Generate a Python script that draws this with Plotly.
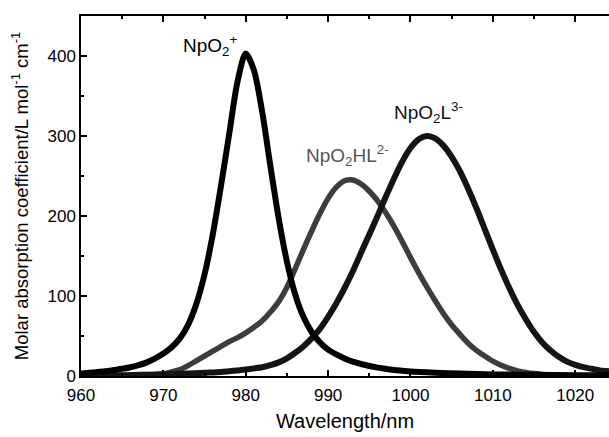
import plotly.graph_objects as go

# Wavelength (nm) and molar absorption coefficient (L mol-1 cm-1)
wl_np = [960, 961, 962, 963, 964, 965, 966, 967, 968, 969, 970, 971, 972, 973, 974, 975,
         976, 977, 978, 979, 980, 981, 982, 983, 984, 985, 986, 987, 988, 989, 990, 991,
         992, 993, 994, 995, 996, 997, 998, 999, 1000, 1003, 1006, 1010, 1015, 1020, 1024.1]
eps_np = [3, 4, 5, 6, 7.5, 9, 11, 13.5, 17, 22, 28, 36, 47, 64, 90, 127,
          177, 238, 303, 368, 403, 382, 330, 262, 197, 143, 102, 74, 55, 42, 33, 27,
          22, 18, 15, 12.5, 10.5, 9, 7.5, 6.5, 5.5, 4, 3, 2, 1.5, 1, 1]

wl_hl = [960, 965, 968, 969, 970, 971, 972, 973, 974, 975, 976, 977, 978, 979, 980, 981,
         982, 983, 984, 985, 986, 987, 988, 989, 990, 991, 992, 993, 994, 995, 996, 997,
         998, 999, 1000, 1001, 1002, 1003, 1004, 1005, 1006, 1007, 1008, 1009, 1010, 1011,
         1012, 1013, 1014, 1015, 1016, 1017, 1018, 1020, 1024.1]
eps_hl = [0, 0.3, 1, 2, 3, 5, 8, 13, 19, 25, 31, 37, 43, 48, 54, 61,
          69, 80, 93, 111, 134, 158, 181, 203, 222, 236, 244, 245, 240, 231, 219, 204,
          187, 168, 148, 129, 111, 94, 78, 64, 52, 41, 32, 25, 18.5, 13.5,
          9.5, 6.5, 4.5, 3, 2, 1.2, 0.8, 0.3, 0]

wl_l = [960, 965, 970, 973, 975, 977, 978, 979, 980, 981, 982, 983, 984, 985, 986, 987,
        988, 989, 990, 991, 992, 993, 994, 995, 996, 997, 998, 999, 1000, 1001, 1002, 1003,
        1004, 1005, 1006, 1007, 1008, 1009, 1010, 1011, 1012, 1013, 1014, 1015, 1016, 1017,
        1018, 1019, 1020, 1021, 1022, 1023, 1024.1]
eps_l = [0.5, 1, 2, 3, 4, 5, 6, 7, 8, 9.5, 11, 13.5, 17, 22, 29, 37,
         47, 59, 74, 91, 110, 131, 154, 177, 200, 224, 247, 268, 285, 296, 300, 297,
         288, 274, 256, 234, 210, 184, 158, 133, 110, 89, 71, 55, 42, 32,
         24, 18, 14, 11, 9, 7, 6]

labels = ["NpO<sub>2</sub><sup>+</sup>", "NpO<sub>2</sub>HL<sup>2-</sup>", "NpO<sub>2</sub>L<sup>3-</sup>"]
label_x = [975.6, 992.3, 1002.2]
label_y = [413, 276, 330]
label_colors = ["#000000", "#555555", "#111111"]

FONT = "Arial, Liberation Sans, sans-serif"

fig = go.Figure()
fig.add_trace(go.Scatter(x=wl_hl, y=eps_hl, mode="lines", line=dict(color="#3d3d3d", width=5.5, shape="spline", smoothing=0.8)))
fig.add_trace(go.Scatter(x=wl_l, y=eps_l, mode="lines", line=dict(color="#141414", width=6, shape="spline", smoothing=0.8)))
fig.add_trace(go.Scatter(x=wl_np, y=eps_np, mode="lines", line=dict(color="#000000", width=6, shape="spline", smoothing=0.8)))

for t, x, y, c in zip(labels, label_x, label_y, label_colors):
    fig.add_annotation(x=x, y=y, text=t, showarrow=False, font=dict(family=FONT, size=19, color=c))

fig.update_layout(
    width=609, height=437,
    margin=dict(l=81, r=0, t=16, b=61),
    paper_bgcolor="white", plot_bgcolor="white",
    showlegend=False,
    font=dict(family=FONT, size=17, color="black"),
)
fig.update_xaxes(
    range=[960, 1024.1], tickmode="linear", tick0=960, dtick=10,
    ticks="inside", ticklen=6, tickwidth=1.5, tickcolor="black",
    minor=dict(ticks="inside", ticklen=3.5, dtick=5, tickwidth=1.5, tickcolor="black"),
    showline=True, linecolor="black", linewidth=1.5, mirror="ticks",
    showgrid=False, zeroline=False,
    tickfont=dict(family=FONT, size=17), ticklabelstandoff=3,
    title=dict(text="Wavelength/nm", font=dict(family=FONT, size=20), standoff=10),
)
fig.update_yaxes(
    range=[0, 450], tickmode="linear", tick0=0, dtick=100,
    ticks="inside", ticklen=6, tickwidth=1.5, tickcolor="black",
    minor=dict(ticks="inside", ticklen=3.5, dtick=50, tickwidth=1.5, tickcolor="black"),
    showline=True, linecolor="black", linewidth=1.5, mirror=False,
    showgrid=False, zeroline=False,
    tickfont=dict(family=FONT, size=17),
    title=dict(text="Molar absorption coefficient/L mol<sup>-1</sup> cm<sup>-1</sup>",
               font=dict(family=FONT, size=18.5), standoff=14),
)

fig.write_html("out.html")
